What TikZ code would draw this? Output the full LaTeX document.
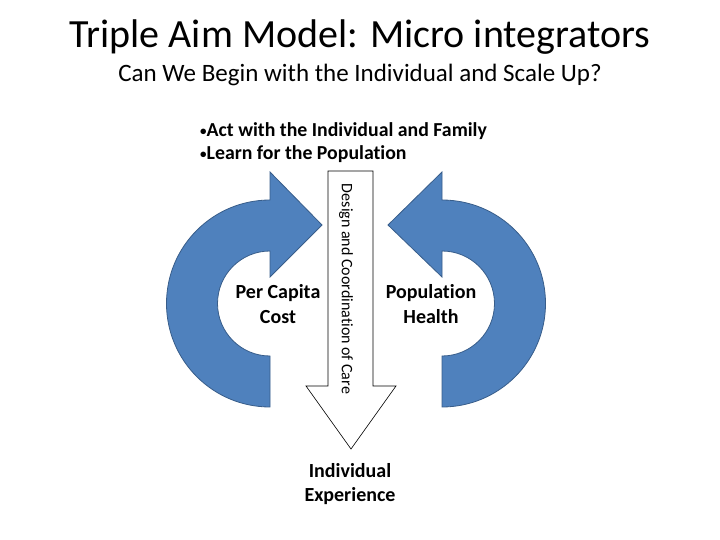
\documentclass[tikz,border=0pt]{standalone}
\usepackage{fontspec}
\setmainfont{Carlito}[Ligatures=NoCommon]
\usepackage{xcolor}
\usepackage{tikz}
\usetikzlibrary{positioning}
\definecolor{aimblue}{HTML}{4F81BD}
\definecolor{aimedge}{HTML}{385D8A}
\tikzset{
  ring/.style={draw=aimedge, fill=aimblue, line width=0.8pt, line join=miter},
  downarr/.style={draw=black, fill=white, line width=0.6pt},
  ttl/.style={inner sep=0pt, font=\fontsize{40}{48}\selectfont},
  subttl/.style={inner sep=0pt, font=\fontsize{25}{30}\selectfont},
  bul/.style={inner sep=0pt, align=left, font=\bfseries\fontsize{19.8}{23}\selectfont},
  aim/.style={inner sep=0pt, align=center, font=\bfseries\fontsize{20}{24.5}\selectfont},
  carelbl/.style={inner sep=0pt, rotate=-90, font=\fontsize{16}{18}\selectfont}
}
\newcommand{\aimdot}{{\fontsize{13}{13}\selectfont\raisebox{1.5pt}{•}}}

\begin{document}
\begin{tikzpicture}[x=1pt, y=-1pt]
  \useasboundingbox (0,0) rectangle (720,540);

  \node[ttl] (title) at (360,37) {Triple Aim Model: Micro integrators};
  \node[subttl] (sub) at (360,75) {Can We Begin with the Individual and Scale Up?};
  \node[bul, anchor=west] (bullets) at (200,143)
    {\aimdot Act with the Individual and Family\\\aimdot Learn for the Population};

  \draw[ring] (270,407) arc[start angle=90, end angle=270, radius=103.5]
    -- (270,172) -- (322,225) -- (270,277) -- (270,251)
    arc[start angle=270, end angle=90, radius=52.5] -- cycle;
  \draw[ring] (442,407) arc[start angle=90, end angle=-90, radius=103.5]
    -- (442,172) -- (388,225) -- (442,277) -- (442,251)
    arc[start angle=-90, end angle=90, radius=52.5] -- cycle;

  \draw[downarr] (328,171) -- (373,171) -- (373,386) -- (396,386)
    -- (351,449) -- (306,386) -- (328,386) -- cycle;
  \node[carelbl] (care) at (346,289) {Design and Coordination of Care};

  \node[aim] (cost) at (278,304) {Per Capita\\Cost};
  \node[aim] (health) at (431,304) {Population\\Health};
  \node[aim] (exper) at (350,484) {Individual\\Experience};
\end{tikzpicture}
\end{document}
